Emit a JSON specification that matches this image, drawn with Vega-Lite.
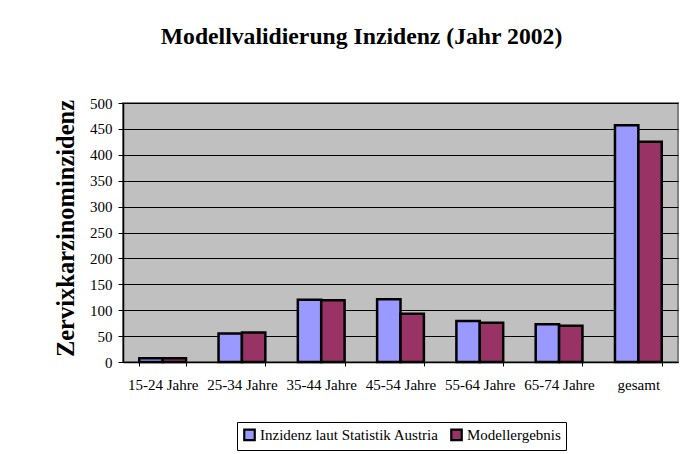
{
  "$schema": "https://vega.github.io/schema/vega-lite/v6.json",
  "autosize": {"type": "none"},
  "width": 555,
  "height": 259,
  "padding": {"left": 123, "top": 103, "right": 11, "bottom": 92},
  "background": "white",
  "title": {
    "text": "Modellvalidierung Inzidenz (Jahr 2002)",
    "font": "Liberation Serif",
    "fontSize": 23.7,
    "fontWeight": "bold",
    "color": "black",
    "anchor": "middle",
    "dx": -39,
    "baseline": "alphabetic",
    "offset": 28
  },
  "data": {
    "values": [
      {"group": "15-24 Jahre", "series": "Inzidenz laut Statistik Austria", "value": 7},
      {"group": "15-24 Jahre", "series": "Modellergebnis", "value": 7},
      {"group": "25-34 Jahre", "series": "Inzidenz laut Statistik Austria", "value": 55},
      {"group": "25-34 Jahre", "series": "Modellergebnis", "value": 57},
      {"group": "35-44 Jahre", "series": "Inzidenz laut Statistik Austria", "value": 120},
      {"group": "35-44 Jahre", "series": "Modellergebnis", "value": 119},
      {"group": "45-54 Jahre", "series": "Inzidenz laut Statistik Austria", "value": 121},
      {"group": "45-54 Jahre", "series": "Modellergebnis", "value": 93},
      {"group": "55-64 Jahre", "series": "Inzidenz laut Statistik Austria", "value": 79},
      {"group": "55-64 Jahre", "series": "Modellergebnis", "value": 76},
      {"group": "65-74 Jahre", "series": "Inzidenz laut Statistik Austria", "value": 73},
      {"group": "65-74 Jahre", "series": "Modellergebnis", "value": 70},
      {"group": "gesamt", "series": "Inzidenz laut Statistik Austria", "value": 457},
      {"group": "gesamt", "series": "Modellergebnis", "value": 425}
    ]
  },
  "mark": {"type": "bar", "stroke": "black", "strokeWidth": 2.5},
  "encoding": {
    "x": {
      "field": "group",
      "type": "nominal",
      "sort": null,
      "scale": {"paddingInner": 0.41, "paddingOuter": 0.205},
      "axis": {
        "title": null,
        "labelAngle": 0,
        "labelFont": "Liberation Serif",
        "labelFontSize": 15,
        "labelColor": "black",
        "labelPadding": 11,
        "tickBand": "extent",
        "tickSize": 4,
        "tickColor": "black",
        "domainColor": "black",
        "domainWidth": 1.5
      }
    },
    "xOffset": {
      "field": "series",
      "type": "nominal",
      "sort": null,
      "scale": {"paddingInner": 0, "paddingOuter": 0}
    },
    "y": {
      "field": "value",
      "type": "quantitative",
      "scale": {"domain": [0, 500], "nice": false},
      "axis": {
        "title": "Zervixkarzinominzidenz",
        "titleFont": "Liberation Serif",
        "titleFontSize": 24.5,
        "titleFontWeight": "bold",
        "titleColor": "black",
        "titlePadding": 11,
        "titleY": 125,
        "values": [0, 50, 100, 150, 200, 250, 300, 350, 400, 450, 500],
        "labelFont": "Liberation Serif",
        "labelFontSize": 15,
        "labelColor": "black",
        "labelPadding": 6,
        "tickSize": 5,
        "tickColor": "black",
        "domainColor": "black",
        "domainWidth": 1.5,
        "grid": true,
        "gridColor": "black",
        "gridWidth": 1
      }
    },
    "color": {
      "field": "series",
      "type": "nominal",
      "sort": null,
      "scale": {
        "domain": ["Inzidenz laut Statistik Austria", "Modellergebnis"],
        "range": ["#9999FF", "#993366"]
      },
      "legend": {
        "orient": "none",
        "legendX": 114,
        "legendY": 319,
        "direction": "horizontal",
        "title": null,
        "strokeColor": "black",
        "fillColor": "white",
        "padding": 5,
        "symbolType": "square",
        "symbolSize": 110,
        "symbolStrokeColor": "black",
        "symbolStrokeWidth": 2.2,
        "symbolOpacity": 1,
        "labelFont": "Liberation Serif",
        "labelFontSize": 15,
        "labelColor": "black",
        "labelOffset": 3,
        "labelLimit": 400,
        "columnPadding": 7
      }
    }
  },
  "config": {
    "view": {"fill": "#C0C0C0", "stroke": "#808080", "strokeWidth": 2}
  }
}
